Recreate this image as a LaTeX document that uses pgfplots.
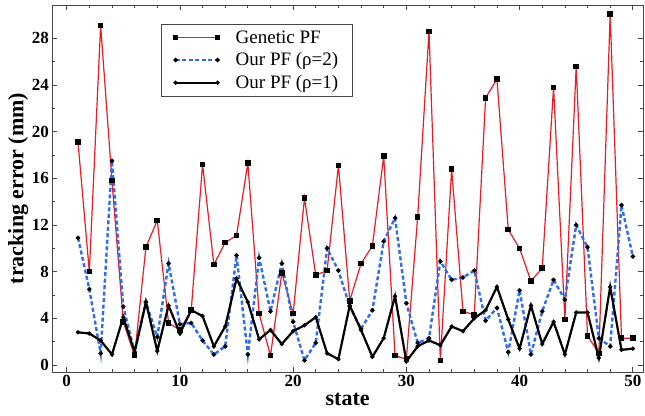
\documentclass[border=0pt]{standalone}
\usepackage{fontspec}
\setmainfont{Liberation Serif}
\usepackage{pgfplots}
\pgfplotsset{compat=1.18}
\usepackage{pgfplotstable}

\definecolor{gared}{RGB}{232,28,36}
\definecolor{pfblue}{RGB}{48,108,236}
\definecolor{framegray}{RGB}{70,70,70}

% state  genetic  rho2  rho1
\pgfplotstableread{
x  gen   r2    r1
1  19.1  10.9  2.8
2  8.0   6.5   2.7
3  29.1  1.0   2.1
4  15.8  17.5  0.9
5  3.7   5.0   4.1
6  0.8   1.1   1.1
7  10.1  5.4   5.4
8  12.4  2.4   1.2
9  3.6   8.7   5.1
10 3.0   3.5   2.7
11 4.7   3.6   4.7
12 17.2  2.1   4.2
13 8.6   0.9   1.6
14 10.5  1.6   3.3
15 11.1  9.4   7.4
16 17.3  0.9   5.4
17 4.4   9.2   2.2
18 0.8   4.6   3.0
19 7.9   8.7   1.8
20 4.4   3.7   2.9
21 14.3  0.4   3.4
22 7.7   1.9   4.1
23 8.1   10.0  1.0
24 17.1  8.1   0.5
25 5.5   5.0   5.1
26 8.7   3.1   3.0
27 10.2  4.7   0.7
28 17.9  10.6  2.3
29 0.8   12.6  5.9
30 0.5   5.3   0.3
31 12.7  1.9   1.6
32 28.6  2.3   2.1
33 0.4   8.9   1.7
34 16.8  7.3   3.3
35 4.6   7.5   2.9
36 4.3   8.1   4.0
37 22.9  3.8   4.7
38 24.5  4.9   6.7
39 11.6  1.1   3.9
40 10.0  6.4   1.4
41 7.2   0.9   5.1
42 8.3   4.6   1.8
43 23.8  7.3   3.7
44 3.9   5.6   0.9
45 25.6  12.0  4.5
46 2.5   10.1  4.5
47 1.0   2.3   0.6
48 30.1  1.6   6.7
49 2.3   13.7  1.3
50 2.3   9.3   1.4
}\errdata

\begin{document}
\begin{tikzpicture}
\begin{axis}[
    scale only axis,
    width=590.7pt, height=367pt,
    xmin=-1.27, xmax=50.9,
    ymin=-0.6, ymax=30.86,
    xtick={0,10,...,50},
    ytick={0,4,...,28},
    minor x tick num=4,
    minor y tick num=1,
    tick align=inside,
    major tick length=5pt,
    minor tick length=3pt,
    axis line style={framegray, line width=0.9pt},
    tick style={framegray, line width=0.7pt},
    /pgf/number format/assume math mode=true,
    ticklabel style={font=\bfseries\fontsize{17}{17}\selectfont},
    xlabel={\bfseries state},
    ylabel={\bfseries tracking error (mm)},
    label style={font=\bfseries\fontsize{22}{22}\selectfont},
    xlabel style={at={(axis description cs:0.5,-0.076)}, anchor=center},
    ylabel style={at={(axis description cs:-0.0576,0.5)}, anchor=center},
    legend cell align=left,
    legend style={at={(0.184,0.949)}, anchor=north west,
        draw=framegray, line width=0.7pt,
        font=\fontsize{19}{19}\selectfont,
        inner xsep=12pt, inner ysep=5pt, row sep=5pt,
        column sep=14pt,
        nodes={inner xsep=2pt, inner ysep=1.5pt}},
    legend image code/.code={
        \draw[mark repeat=2, mark phase=1]
            plot coordinates {(0pt,0pt) (21pt,0pt) (42pt,0pt)};
    },
]
\addplot[gared, line width=1.2pt, mark=square*,
    mark options={black, solid}, mark size=2.2pt]
    table[x=x, y=gen] {\errdata};
\addplot[pfblue, line width=2.4pt, dash pattern=on 4pt off 2.5pt,
    mark=*, mark options={black, solid}, mark size=0.8pt]
    table[x=x, y=r2] {\errdata};
\addplot[black, line width=2.2pt, mark=*,
    mark options={black, solid}, mark size=0.8pt]
    table[x=x, y=r1] {\errdata};
\legend{Genetic PF, Our PF (ρ=2), Our PF (ρ=1)}
\end{axis}
\pgfresetboundingbox
\path[use as bounding box] (-52.3pt,-43pt) rectangle (592.7pt,372pt);
\end{tikzpicture}
\end{document}
